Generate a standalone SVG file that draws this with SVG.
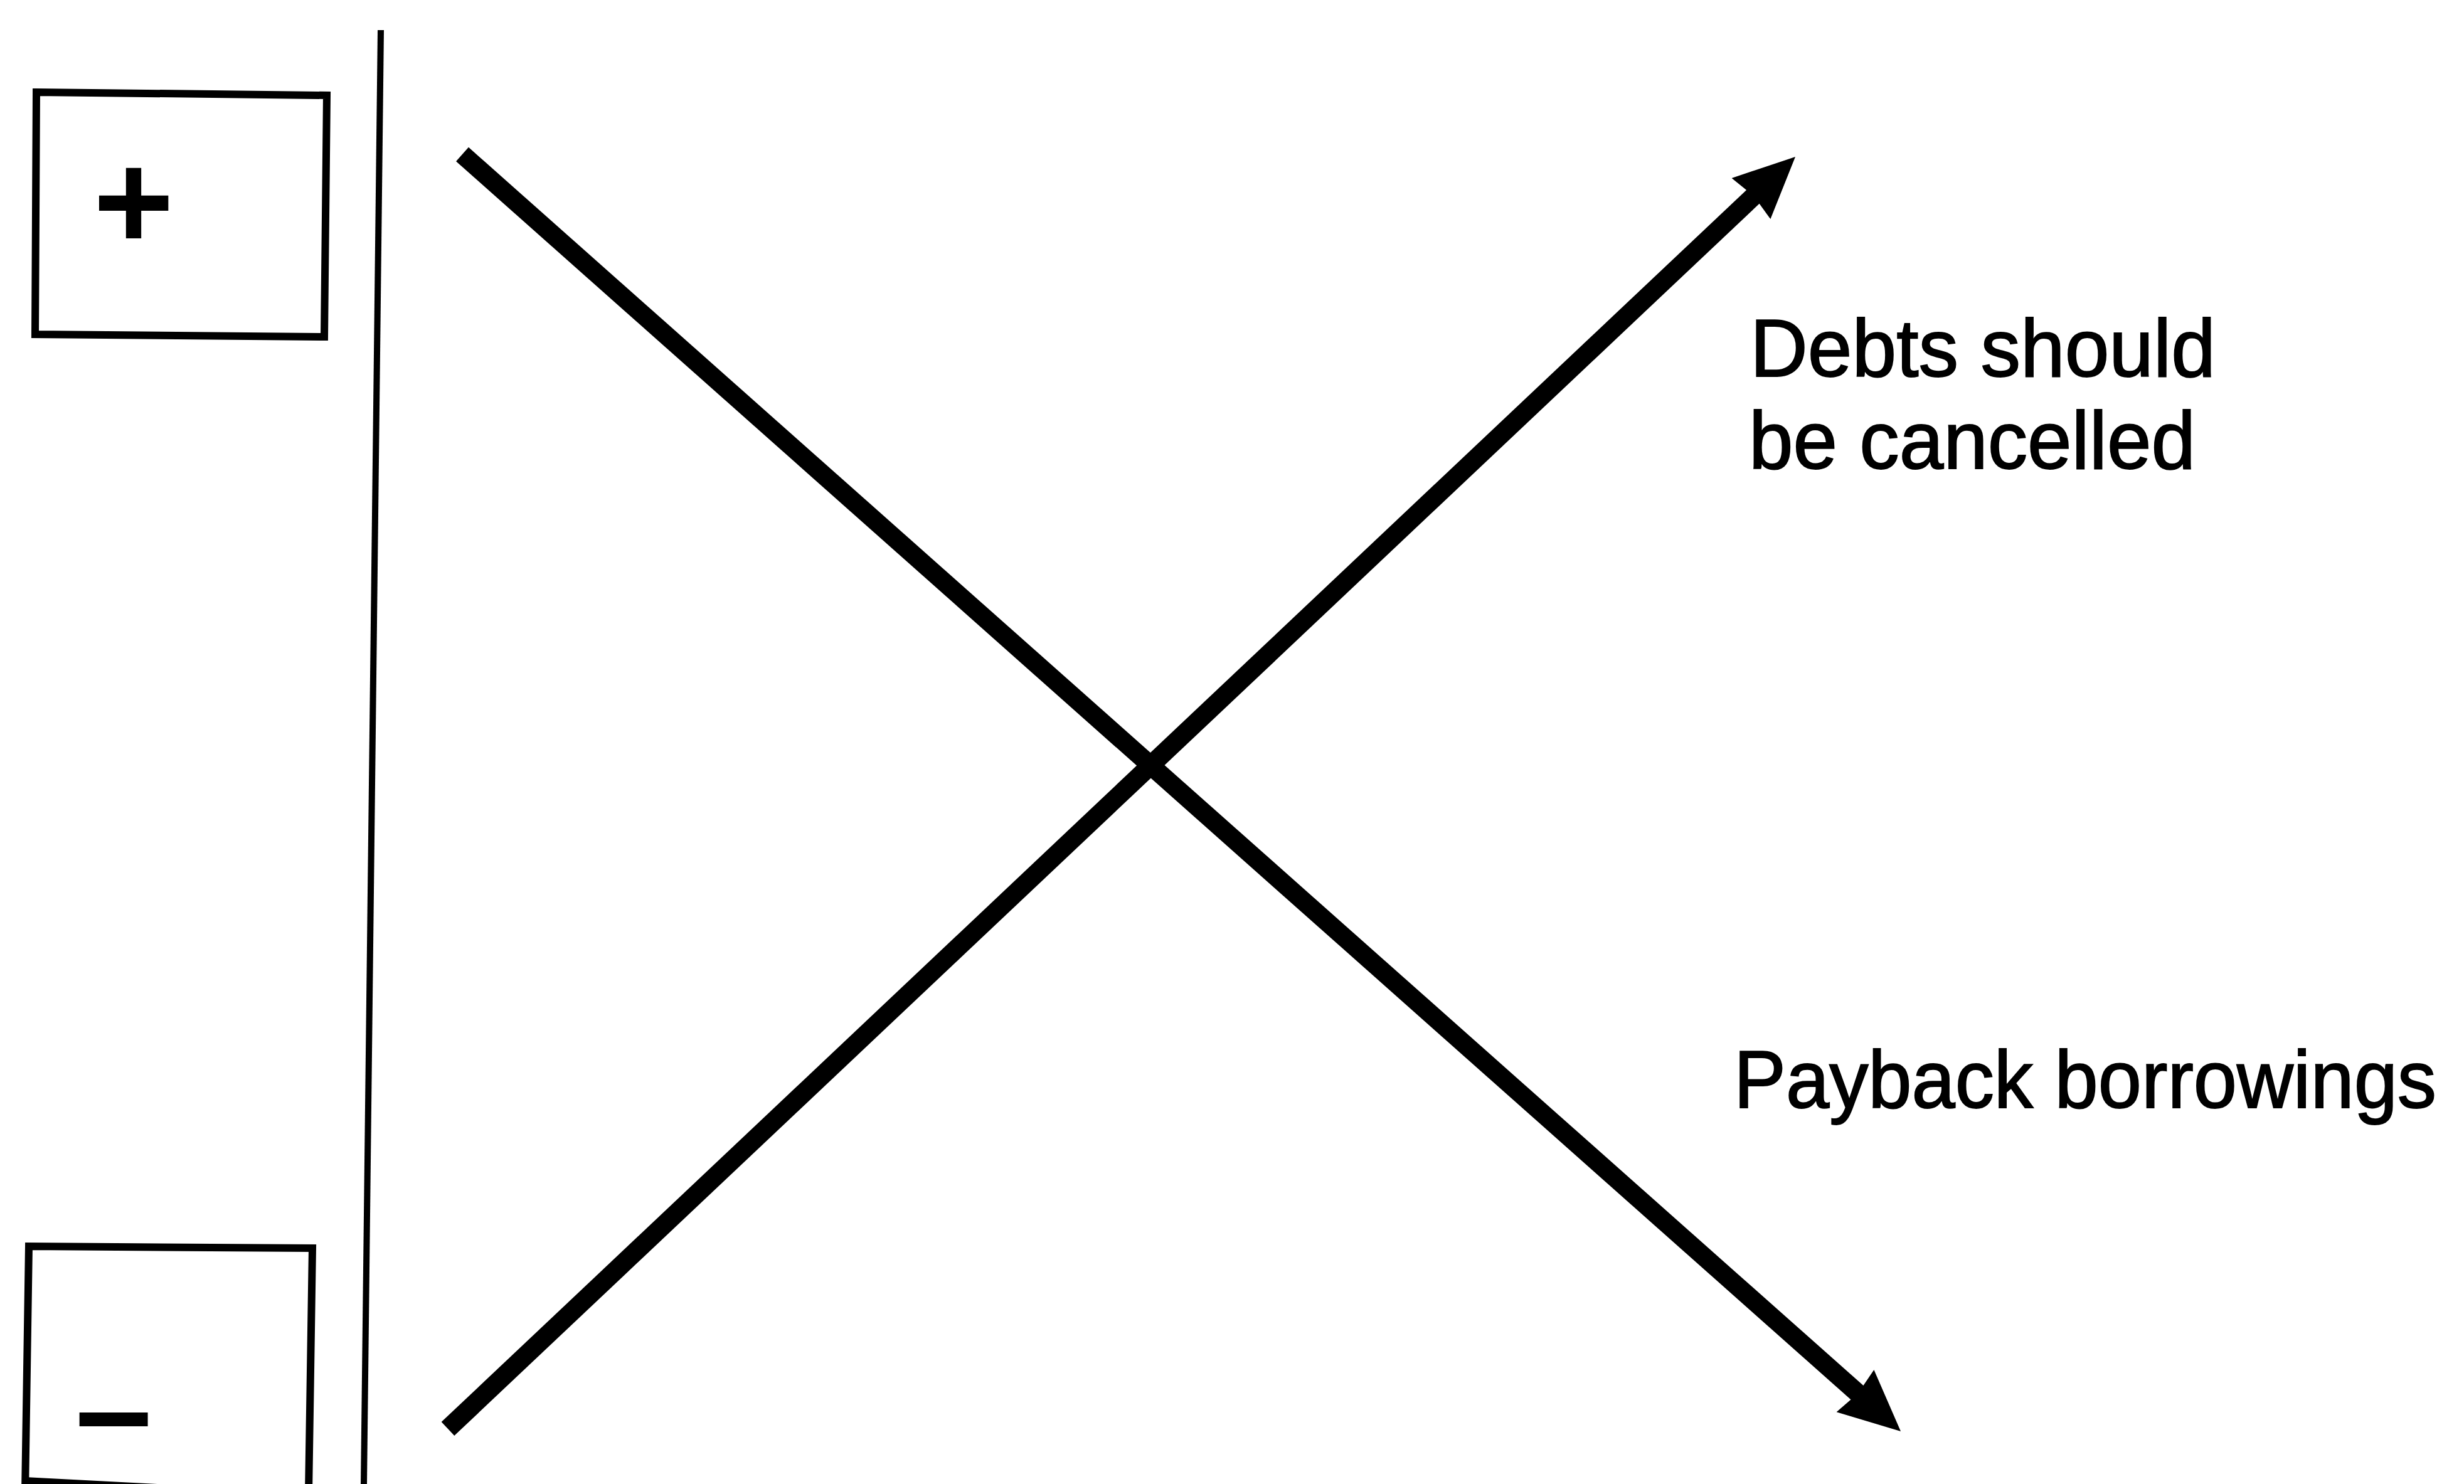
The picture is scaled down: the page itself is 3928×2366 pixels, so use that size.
<svg xmlns="http://www.w3.org/2000/svg" width="3928" height="2366" viewBox="0 0 3928 2366">
<style>
.box{fill:none;stroke:#000;stroke-width:12;stroke-linejoin:miter}
.axis{stroke:#000;stroke-width:10;fill:none}
.arrow{stroke:#000;stroke-width:30;fill:none;stroke-linecap:butt}
.sign{font-family:"Liberation Sans",Arial,sans-serif;font-weight:bold;font-size:220px;fill:#000}
.label{font-family:"Liberation Sans",Arial,sans-serif;font-size:130px;fill:#000;stroke:#000;stroke-width:2}
</style>
<defs>
<marker id="head" markerUnits="userSpaceOnUse" markerWidth="100" markerHeight="96" refX="27" refY="47" orient="auto" viewBox="0 0 100 96">
<path d="M0,2 L97,47 L0,92 L6,47 Z" fill="#000"/>
</marker>
</defs>
<rect width="3928" height="2366" fill="#fff"/>
<g id="axis">
<line class="axis" x1="607" y1="48" x2="580" y2="2366"/>
</g>
<g id="plus-node">
<polygon class="box" points="58,147 521,152 517,537 56,533"/>
<text class="sign" x="213" y="397" text-anchor="middle">+</text>
</g>
<g id="minus-node">
<polyline class="box" points="40,2380 46,1987 498,1990 492,2380"/>
<line class="box" x1="40" y1="2361" x2="500" y2="2385"/>
<text class="sign" x="120" y="2322">–</text>
</g>
<g id="label-debts">
<text class="label" x="2790" y="600" textLength="742" lengthAdjust="spacingAndGlyphs">Debts should</text>
<text class="label" x="2788" y="747" textLength="712" lengthAdjust="spacingAndGlyphs">be cancelled</text>
</g>
<g id="label-payback">
<text class="label" x="2764" y="1766" textLength="1120" lengthAdjust="spacingAndGlyphs">Payback borrowings</text>
</g>
<g id="connectors">
<line class="arrow" x1="737" y1="246" x2="2977.7" y2="2235.5" marker-end="url(#head)"/>
<line class="arrow" x1="714" y1="2278" x2="2811.1" y2="298.1" marker-end="url(#head)"/>
</g>
</svg>
